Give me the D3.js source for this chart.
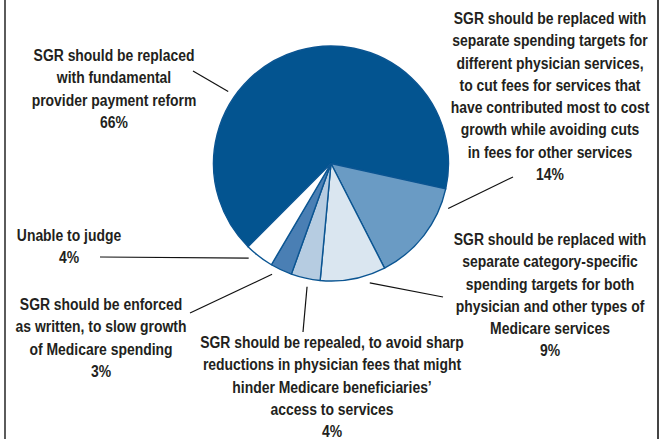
<!DOCTYPE html>
<html>
<head>
<meta charset="utf-8">
<script src="https://cdn.jsdelivr.net/npm/d3@7"></script>
<style>
  html, body { margin: 0; padding: 0; background: #fff; }
  svg { display: block; }
  text { font-family: "Liberation Sans", Arial, sans-serif; font-weight: bold; fill: #231f20; }
</style>
</head>
<body>
<svg id="chart" width="667" height="439"></svg>
<script>
// Survey responses on the sustainable growth rate (SGR), in drawing order
const categories = [
  "SGR should be replaced with fundamental provider payment reform",
  "SGR should be replaced with separate spending targets for different physician services, to cut fees for services that have contributed most to cost growth while avoiding cuts in fees for other services",
  "SGR should be replaced with separate category-specific spending targets for both physician and other types of Medicare services",
  "SGR should be repealed, to avoid sharp reductions in physician fees that might hinder Medicare beneficiaries' access to services",
  "SGR should be enforced as written, to slow growth of Medicare spending",
  "Unable to judge"
];
const shares = [66, 14, 9, 4, 3, 4];

// Label text broken into lines, one entry per category
const labelLines = [
  ["SGR should be replaced", "with fundamental", "provider payment reform"],
  ["SGR should be replaced with", "separate spending targets for", "different physician services,", "to cut fees for services that", "have contributed most to cost", "growth while avoiding cuts", "in fees for other services"],
  ["SGR should be replaced with", "separate category-specific", "spending targets for both", "physician and other types of", "Medicare services"],
  ["SGR should be repealed, to avoid sharp", "reductions in physician fees that might", "hinder Medicare beneficiaries\u2019", "access to services"],
  ["SGR should be enforced", "as written, to slow growth", "of Medicare spending"],
  ["Unable to judge"]
];

const fills = ["#035490", "#6a9bc4", "#dae6f0", "#b6cce1", "#4a7fb4", "#ffffff"];

// Layout: label block anchor (centre x, first baseline), leader angle on the pie, leader end point
const labelLayout = [
  { x: 114, y: 61,  angle: 305, end: [193, 71] },
  { x: 550, y: 24,  angle: 111, end: [513, 177] },
  { x: 550, y: 245, angle: 162, end: [443, 297] },
  { x: 332, y: 348, angle: 191, end: [303, 332] },
  { x: 101, y: 310, angle: 208, end: [190, 313] },
  { x: 69,  y: 241, angle: 221, end: [100, 257] }
];

const svg = d3.select("#chart");
const cx = 331, cy = 163.5, radius = 117.5, lineH = 22.3;
const squeeze = 0.87; // condensed look for the label face

// Frame rules on both sides
svg.append("line").attr("x1", 5).attr("x2", 5).attr("y1", 0).attr("y2", 439)
  .attr("stroke", "#333").attr("stroke-width", 1.6);
svg.append("line").attr("x1", 658).attr("x2", 658).attr("y1", 0).attr("y2", 439)
  .attr("stroke", "#444").attr("stroke-width", 2);

const deg = Math.PI / 180;
const pie = d3.pie().sort(null).value(d => d)
  .startAngle(224.9 * deg).endAngle((224.9 + 360) * deg);
const arc = d3.arc().innerRadius(0).outerRadius(radius);

const g = svg.append("g").attr("transform", `translate(${cx},${cy})`);
g.selectAll("path")
  .data(pie(shares))
  .join("path")
  .attr("d", arc)
  .attr("fill", (d, i) => fills[i])
  .attr("stroke", "#0b5592")
  .attr("stroke-width", 1.4)
  .attr("stroke-linejoin", "round");

// Leader lines
const leaderR = radius + 8;
svg.selectAll("line.leader")
  .data(labelLayout)
  .join("line")
  .attr("class", "leader")
  .attr("x1", d => cx + leaderR * Math.sin(d.angle * deg))
  .attr("y1", d => cy - leaderR * Math.cos(d.angle * deg))
  .attr("x2", d => d.end[0])
  .attr("y2", d => d.end[1])
  .attr("stroke", "#111")
  .attr("stroke-width", 1.2);

// Labels with their percentages
labelLayout.forEach((pos, i) => {
  const lines = labelLines[i].concat([shares[i] + "%"]);
  const t = svg.append("g")
    .attr("transform", `translate(${pos.x},0) scale(${squeeze},1)`)
    .append("text")
    .attr("text-anchor", "middle")
    .attr("font-size", 16);
  lines.forEach((s, k) => {
    t.append("tspan").attr("x", 0).attr("y", pos.y + k * lineH).text(s);
  });
});
</script>
</body>
</html>
